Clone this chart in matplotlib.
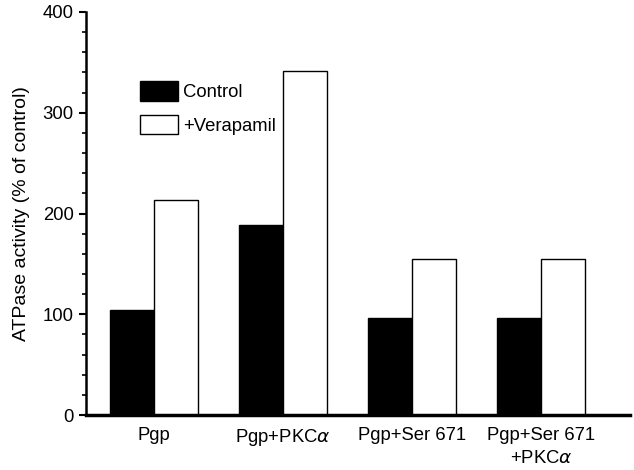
import matplotlib.pyplot as plt
from matplotlib.ticker import MultipleLocator
import numpy as np

plt.rcParams['font.family'] = ['Liberation Sans', 'DejaVu Sans']

groups = ['Pgp', 'Pgp+PKC$\\alpha$', 'Pgp+Ser 671', 'Pgp+Ser 671\n+PKC$\\alpha$']
control = [104, 189, 96, 96]
verapamil = [213, 341, 155, 155]

x = np.arange(len(groups))
w = 0.34
fs = 13.3

fig = plt.figure(figsize=(6.34, 4.70), dpi=100)
ax = fig.add_axes([86/634, 55/470, 544/634, 403/470])

ax.bar(x - w/2, control, w, color='black', edgecolor='black', linewidth=1, label='Control')
ax.bar(x + w/2, verapamil, w, color='white', edgecolor='black', linewidth=1, label='+Verapamil')

ax.set_xlim(-0.53, 3.69)
ax.set_ylim(0, 400)
ax.set_xticks(x)
ax.set_xticklabels(groups, fontsize=fs, linespacing=1.4)
ax.tick_params(axis='x', length=0, pad=9)
ax.yaxis.set_major_locator(MultipleLocator(100))
ax.yaxis.set_minor_locator(MultipleLocator(20))
ax.tick_params(axis='y', which='major', length=5, width=1.5, labelsize=fs, direction='out', pad=4)
ax.tick_params(axis='y', which='minor', length=3, width=1.2, direction='out')
ax.set_ylabel('ATPase activity (% of control)', fontsize=14, labelpad=9)

for s in ['top', 'right']:
    ax.spines[s].set_visible(False)
ax.spines['left'].set_linewidth(1.8)
ax.spines['bottom'].set_linewidth(2.5)

ax.legend(loc='upper left', bbox_to_anchor=(140/634, 1 - 81/470), bbox_transform=fig.transFigure,
          frameon=False, fontsize=fs, handlelength=2.05, handleheight=1.25,
          handletextpad=0.28, labelspacing=0.75, borderpad=0, borderaxespad=0)

fig.savefig('out.png', dpi=100)
